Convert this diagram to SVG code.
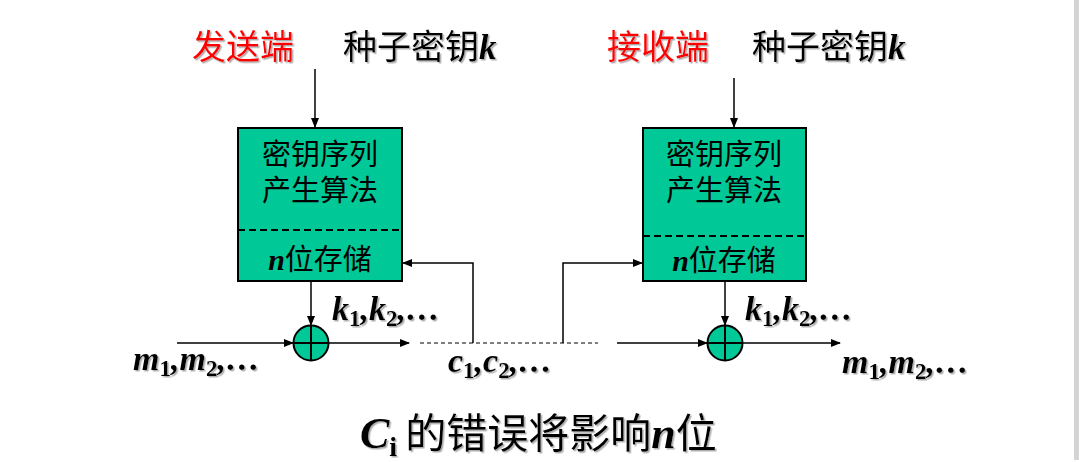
<svg xmlns="http://www.w3.org/2000/svg" width="1079" height="462" viewBox="0 0 1079 462">
<defs>
<style>
.cjk{font-family:"Liberation Sans","Noto Sans CJK SC",sans-serif;}
.ti{font-family:"Liberation Serif",serif;font-style:italic;font-weight:bold;}
.tb{font-family:"Liberation Serif",serif;font-style:normal;font-weight:bold;}
.box{fill:#00C997;stroke:#000;stroke-width:2;}
.ln{stroke:#000;stroke-width:1.5;fill:none;}
.dash{stroke:#000;stroke-width:1;stroke-dasharray:4 3;fill:none;}
.bdash{stroke:#000;stroke-width:2;stroke-dasharray:7 4;fill:none;}
.sh{filter:url(#shadow);}
</style>
<marker id="ah" markerWidth="10" markerHeight="8" refX="9" refY="4" orient="auto" markerUnits="userSpaceOnUse">
<path d="M0,0 L10,4 L0,8 Z" fill="#000"/>
</marker>
<filter id="shadow" x="-5%" y="-10%" width="110%" height="130%">
<feDropShadow dx="1.5" dy="1.5" stdDeviation="0.6" flood-color="#999" flood-opacity="0.8"/>
</filter>
</defs>
<rect width="1079" height="462" fill="#fff"/>
<rect x="1074" y="0" width="5" height="460" fill="#d4d4d4"/>

<g id="title-left" class="sh">
<text x="192" y="59" class="cjk" font-size="34" fill="#ff0000">发送端</text>
<text x="343" y="59" class="cjk" font-size="34" fill="#000">种子密钥<tspan class="ti" font-size="35">k</tspan></text>
</g>
<g id="title-right" class="sh">
<text x="607" y="59" class="cjk" font-size="34" fill="#ff0000">接收端</text>
<text x="752" y="59" class="cjk" font-size="34" fill="#000">种子密钥<tspan class="ti" font-size="35">k</tspan></text>
</g>

<g id="box-left">
<rect x="238" y="128" width="164" height="153" class="box"/>
<line x1="238" y1="230" x2="402" y2="230" class="bdash"/>
<text text-anchor="middle" class="cjk" font-size="29"><tspan x="320" y="165">密钥序列</tspan><tspan x="320" y="201">产生算法</tspan></text>
<text x="320" y="270" text-anchor="middle" class="cjk" font-size="29"><tspan class="ti" font-size="30">n</tspan>位存储</text>
</g>

<g id="box-right">
<rect x="643" y="128" width="163" height="153" class="box"/>
<line x1="643" y1="236" x2="806" y2="236" class="bdash"/>
<text text-anchor="middle" class="cjk" font-size="29"><tspan x="724" y="165">密钥序列</tspan><tspan x="724" y="201">产生算法</tspan></text>
<text x="724" y="271" text-anchor="middle" class="cjk" font-size="29"><tspan class="ti" font-size="30">n</tspan>位存储</text>
</g>

<g id="xor-left">
<circle cx="311" cy="343" r="17.5" fill="#00C997" stroke="#000" stroke-width="2"/>
<line x1="293.5" y1="343" x2="328.5" y2="343" stroke="#000" stroke-width="2"/>
<line x1="311" y1="325.5" x2="311" y2="360.5" stroke="#000" stroke-width="2"/>
</g>
<g id="xor-right">
<circle cx="725" cy="343" r="17.5" fill="#00C997" stroke="#000" stroke-width="2"/>
<line x1="707.5" y1="343" x2="742.5" y2="343" stroke="#000" stroke-width="2"/>
<line x1="725" y1="325.5" x2="725" y2="360.5" stroke="#000" stroke-width="2"/>
</g>

<g id="connectors">
<line x1="315" y1="69" x2="315" y2="127" class="ln" marker-end="url(#ah)"/>
<line x1="734" y1="78" x2="734" y2="127" class="ln" marker-end="url(#ah)"/>
<line x1="311" y1="281" x2="311" y2="325" class="ln" marker-end="url(#ah)"/>
<line x1="725" y1="281" x2="725" y2="325" class="ln" marker-end="url(#ah)"/>
<line x1="177" y1="343" x2="293" y2="343" class="ln" marker-end="url(#ah)"/>
<line x1="329" y1="343" x2="409" y2="343" class="ln" marker-end="url(#ah)"/>
<line x1="420" y1="343" x2="598" y2="343" class="dash"/>
<polyline points="473,343 473,263 403,263" class="ln" marker-end="url(#ah)"/>
<polyline points="563,343 563,263 642,263" class="ln" marker-end="url(#ah)"/>
<line x1="617" y1="343" x2="707" y2="343" class="ln" marker-end="url(#ah)"/>
<line x1="743" y1="343" x2="840" y2="343" class="ln" marker-end="url(#ah)"/>
</g>

<g id="labels" class="sh">
<text x="332" y="320" class="ti" font-size="34">k<tspan class="tb" font-size="23" dy="6">1</tspan><tspan dy="-6">,k</tspan><tspan class="tb" font-size="23" dy="6">2</tspan><tspan dy="-6">,…</tspan></text>
<text x="745" y="320" class="ti" font-size="34">k<tspan class="tb" font-size="23" dy="6">1</tspan><tspan dy="-6">,k</tspan><tspan class="tb" font-size="23" dy="6">2</tspan><tspan dy="-6">,…</tspan></text>
<text x="133" y="370" class="ti" font-size="34">m<tspan class="tb" font-size="23" dy="6">1</tspan><tspan dy="-6">,m</tspan><tspan class="tb" font-size="23" dy="6">2</tspan><tspan dy="-6">,…</tspan></text>
<text x="448" y="372" class="ti" font-size="34">c<tspan class="tb" font-size="23" dy="6">1</tspan><tspan dy="-6">,c</tspan><tspan class="tb" font-size="23" dy="6">2</tspan><tspan dy="-6">,…</tspan></text>
<text x="842" y="373" class="ti" font-size="34">m<tspan class="tb" font-size="23" dy="6">1</tspan><tspan dy="-6">,m</tspan><tspan class="tb" font-size="23" dy="6">2</tspan><tspan dy="-6">,…</tspan></text>
</g>

<g id="caption" class="sh">
<text x="360" y="448" class="cjk" font-size="41"><tspan class="ti" font-size="44">C</tspan><tspan class="tb" font-size="28" dy="8">i</tspan><tspan dy="-8" dx="8">的错误将影响</tspan><tspan class="ti" font-size="44">n</tspan>位</text>
</g>
</svg>
